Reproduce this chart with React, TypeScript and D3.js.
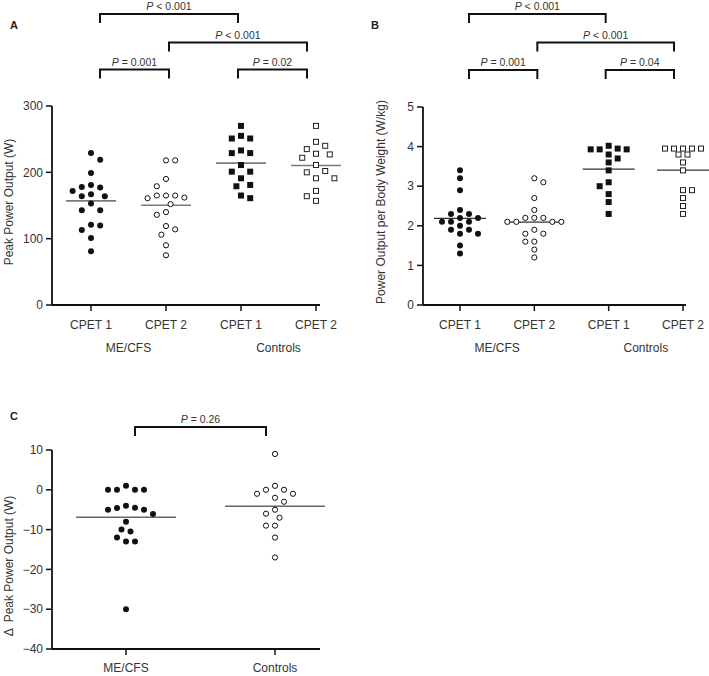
import React from 'react';
import * as d3 from 'd3';

// ---------- DATA ----------
const cpetLabels = ['CPET 1', 'CPET 2', 'CPET 1', 'CPET 2'];
const cohortLabels = ['ME/CFS', 'Controls'];

// Panel A: Peak power output (W)
const peakMecfs1 = [229, 219, 199, 181, 178, 177, 172, 167, 164, 164, 153, 143, 143, 121, 120, 113, 101, 81];
const peakMecfs2 = [218, 218, 190, 179, 165, 165, 165, 162, 161, 152, 140, 136, 119, 114, 106, 90, 75];
const peakCtrl1 = [270, 255, 251, 251, 233, 229, 229, 211, 201, 201, 191, 181, 179, 165, 161];
const peakCtrl2 = [270, 246, 240, 235, 228, 227, 222, 211, 202, 200, 191, 191, 172, 164, 157];
const peakTicks = [0, 100, 200, 300];

// Panel B: Power output per body weight (W/kg)
const wkgMecfs1 = [3.4, 3.2, 2.9, 2.4, 2.3, 2.3, 2.2, 2.2, 2.1, 2.1, 2.1, 2.0, 1.9, 1.9, 1.8, 1.8, 1.5, 1.3];
const wkgMecfs2 = [3.2, 3.1, 2.7, 2.4, 2.2, 2.2, 2.2, 2.1, 2.1, 2.1, 2.1, 1.9, 1.8, 1.8, 1.6, 1.6, 1.4, 1.2];
const wkgCtrl1 = [4.02, 3.95, 3.93, 3.93, 3.93, 3.8, 3.7, 3.6, 3.4, 3.1, 3.0, 2.8, 2.6, 2.3];
const wkgCtrl2 = [3.95, 3.95, 3.95, 3.95, 3.95, 3.8, 3.8, 3.6, 3.4, 2.9, 2.9, 2.7, 2.5, 2.3];
const wkgTicks = [0, 1, 2, 3, 4, 5];

// Panel C: change in peak power output (W)
const deltaMecfs = [1, 0, 0, 0, 0, -4, -4.5, -4.6, -5, -5, -6.1, -8, -10, -10.5, -12, -13, -13, -30];
const deltaCtrl = [9, 1, 0, 0, -1, -1, -2, -3, -5, -6, -7, -9, -9, -12, -17];
const deltaTicks = [-40, -30, -20, -10, 0, 10];

// Significance brackets: [fromGroup, toGroup, label, level]
const peakBrackets: [number, number, string, number][] = [
  [0, 2, '< 0.001', 0],
  [1, 3, '< 0.001', 1],
  [0, 1, '= 0.001', 2],
  [2, 3, '= 0.02', 2],
];
const wkgBrackets: [number, number, string, number][] = [
  [0, 2, '< 0.001', 0],
  [1, 3, '< 0.001', 1],
  [0, 1, '= 0.001', 2],
  [2, 3, '= 0.04', 2],
];
const deltaBrackets: [number, number, string, number][] = [[0, 1, '= 0.26', 0]];

// ---------- HELPERS ----------
const FONT = '"Liberation Sans", Arial, Helvetica, sans-serif';
const TEXT = '#333';

type Pt = { dx: number; y: number; v: number };

function swarm(values: number[], y: (v: number) => number, step: number, minD: number): Pt[] {
  const order = values.map((_, i) => i).sort((a, b) => values[b] - values[a]);
  const placed: { x: number; y: number }[] = [];
  const result: Pt[] = new Array(values.length);
  let balance = 0;
  for (const i of order) {
    const py = y(values[i]);
    const ok = (ox: number) => placed.every((p) => Math.hypot(p.x - ox, p.y - py) >= minD - 1e-6);
    let chosen = 0;
    for (let k = 0; k < 60; k++) {
      if (k === 0) {
        if (ok(0)) { chosen = 0; break; }
        continue;
      }
      const a = balance > 0 ? -k * step : k * step;
      if (ok(a)) { chosen = a; break; }
      if (ok(-a)) { chosen = -a; break; }
    }
    balance += Math.sign(chosen);
    placed.push({ x: chosen, y: py });
    result[i] = { dx: chosen, y: py, v: values[i] };
  }
  return result;
}

type Series = { values: number[]; shape: 'circle' | 'square'; filled: boolean; minD?: number };

type PanelProps = {
  letter: string;
  letterPos: [number, number];
  axisX: number;
  xEnd: number;
  xRange: [number, number];
  yDomain: [number, number];
  yRange: [number, number];
  ticks: number[];
  series: Series[];
  xLabels: string[];
  xLabelY: number;
  groupLabels?: string[];
  groupLabelY?: number;
  yLabel: string;
  yLabelX: number;
  yLabelY: number;
  brackets: [number, number, string, number][];
  bracketLevels: number[];
  meanHalf: number;
  meanColor: string;
  meanWidth: number;
  step: number;
  minD: number;
};

function Panel(p: PanelProps) {
  const n = p.series.length;
  const x = d3.scalePoint<number>().domain(d3.range(n)).range(p.xRange);
  const bx = d3.scalePoint<number>().domain(d3.range(n)).range([p.xRange[0] + 9, p.xRange[1] - 9]);
  const y = d3.scaleLinear().domain(p.yDomain).range(p.yRange);
  const y0 = y(p.yDomain[0]);
  const yTop = y(p.yDomain[1]);
  const r = 3;
  const side = 6;

  return (
    <g>
      <text x={p.letterPos[0]} y={p.letterPos[1]} fontFamily={FONT} fontSize={11} fontWeight="bold" fill="#222">
        {p.letter}
      </text>
      {/* brackets */}
      {p.brackets.map(([a, b, lab, lvl], i) => {
        const ly = p.bracketLevels[lvl];
        const xa = bx(a)!;
        const xb = bx(b)!;
        return (
          <g key={'br' + i}>
            <path d={`M${xa},${ly + 9}V${ly}H${xb}V${ly + 9}`} fill="none" stroke="#111" strokeWidth={2} />
            <text x={(xa + xb) / 2} y={ly - 4} textAnchor="middle" fontFamily={FONT} fontSize={10.5} fill={TEXT}>
              <tspan fontStyle="italic">P</tspan>
              {' ' + lab}
            </text>
          </g>
        );
      })}
      {/* y axis */}
      <line x1={p.axisX} x2={p.axisX} y1={yTop} y2={y0} stroke="#111" strokeWidth={1.8} />
      {p.ticks.map((t) => (
        <g key={'yt' + t}>
          <line x1={p.axisX - 6} x2={p.axisX} y1={y(t)} y2={y(t)} stroke="#111" strokeWidth={1.5} />
          <text x={p.axisX - 9} y={y(t)} dy="0.35em" textAnchor="end" fontFamily={FONT} fontSize={12} fill={TEXT}>
            {t < 0 ? '\u2212' + Math.abs(t) : t}
          </text>
        </g>
      ))}
      {/* x axis */}
      <line x1={p.axisX} x2={p.xEnd} y1={y0} y2={y0} stroke="#111" strokeWidth={1.8} />
      {d3.range(n).map((i) => (
        <g key={'xt' + i}>
          <line x1={x(i)} x2={x(i)} y1={y0} y2={y0 + 6} stroke="#111" strokeWidth={1.5} />
          <text x={x(i)} y={p.xLabelY} textAnchor="middle" fontFamily={FONT} fontSize={12} fill={TEXT}>
            {p.xLabels[i]}
          </text>
        </g>
      ))}
      {p.groupLabels &&
        p.groupLabels.map((g, gi) => (
          <text
            key={'gl' + gi}
            x={(x(gi * 2)! + x(gi * 2 + 1)!) / 2}
            y={p.groupLabelY}
            textAnchor="middle"
            fontFamily={FONT}
            fontSize={12}
            fill={TEXT}
          >
            {g}
          </text>
        ))}
      {/* y label */}
      <text
        transform={`translate(${p.yLabelX},${p.yLabelY}) rotate(-90)`}
        textAnchor="middle"
        dy="0.35em"
        fontFamily={FONT}
        fontSize={12}
        fill={TEXT}
        style={{ whiteSpace: 'pre' }}
      >
        {p.yLabel}
      </text>
      {/* means */}
      {p.series.map((s, i) => {
        const m = d3.mean(s.values)!;
        return (
          <line
            key={'m' + i}
            x1={x(i)! - p.meanHalf}
            x2={x(i)! + p.meanHalf}
            y1={y(m)}
            y2={y(m)}
            stroke={p.meanColor}
            strokeWidth={p.meanWidth}
          />
        );
      })}
      {/* points */}
      {p.series.map((s, i) => {
        const pts = swarm(s.values, (v) => y(v), p.step, s.minD ?? p.minD);
        const cx = x(i)!;
        return (
          <g key={'s' + i}>
            {pts.map((pt, j) =>
              s.shape === 'circle' ? (
                <circle
                  key={j}
                  cx={cx + pt.dx}
                  cy={pt.y}
                  r={s.filled ? r : r - 0.4}
                  fill={s.filled ? '#111' : '#fff'}
                  stroke="#111"
                  strokeWidth={s.filled ? 0 : 1}
                />
              ) : (
                <rect
                  key={j}
                  x={cx + pt.dx - side / 2 + (s.filled ? 0 : 0.5)}
                  y={pt.y - side / 2 + (s.filled ? 0 : 0.5)}
                  width={s.filled ? side : side - 1}
                  height={s.filled ? side : side - 1}
                  fill={s.filled ? '#111' : '#fff'}
                  stroke="#222"
                  strokeWidth={s.filled ? 0 : 1}
                />
              )
            )}
          </g>
        );
      })}
    </g>
  );
}

export default function App() {
  return (
    <svg width={709} height={676} style={{ position: 'absolute', left: 0, top: 0, background: '#fff' }}>
      <rect x={0} y={0} width={709} height={676} fill="#fff" />
      <Panel
        letter="A"
        letterPos={[10, 29]}
        axisX={52}
        xEnd={320}
        xRange={[91, 316]}
        yDomain={[0, 300]}
        yRange={[305, 106]}
        ticks={peakTicks}
        series={[
          { values: peakMecfs1, shape: 'circle', filled: true },
          { values: peakMecfs2, shape: 'circle', filled: false },
          { values: peakCtrl1, shape: 'square', filled: true },
          { values: peakCtrl2, shape: 'square', filled: false },
        ]}
        xLabels={cpetLabels}
        xLabelY={329}
        groupLabels={cohortLabels}
        groupLabelY={352}
        yLabel="Peak Power Output (W)"
        yLabelX={9}
        yLabelY={202}
        brackets={peakBrackets}
        bracketLevels={[14, 42.5, 69.5]}
        meanHalf={25}
        meanColor="#7a7a7a"
        meanWidth={1.6}
        step={4.6}
        minD={8.8}
      />
      <Panel
        letter="B"
        letterPos={[371, 29]}
        axisX={423}
        xEnd={686}
        xRange={[460, 683]}
        yDomain={[0, 5]}
        yRange={[305, 107]}
        ticks={wkgTicks}
        series={[
          { values: wkgMecfs1, shape: 'circle', filled: true },
          { values: wkgMecfs2, shape: 'circle', filled: false },
          { values: wkgCtrl1, shape: 'square', filled: true, minD: 7 },
          { values: wkgCtrl2, shape: 'square', filled: false, minD: 7 },
        ]}
        xLabels={cpetLabels}
        xLabelY={329}
        groupLabels={cohortLabels}
        groupLabelY={352}
        yLabel="Power Output per Body Weight (W/kg)"
        yLabelX={381}
        yLabelY={202}
        brackets={wkgBrackets}
        bracketLevels={[14, 42.5, 70]}
        meanHalf={26}
        meanColor="#333"
        meanWidth={1.2}
        step={4.5}
        minD={7.8}
      />
      <Panel
        letter="C"
        letterPos={[10, 420]}
        axisX={52}
        xEnd={320}
        xRange={[126, 275]}
        yDomain={[-40, 10]}
        yRange={[649, 450]}
        ticks={deltaTicks}
        series={[
          { values: deltaMecfs, shape: 'circle', filled: true },
          { values: deltaCtrl, shape: 'circle', filled: false },
        ]}
        xLabels={cohortLabels}
        xLabelY={672}
        yLabel={'\u0394  Peak Power Output (W)'}
        yLabelX={9}
        yLabelY={566}
        brackets={deltaBrackets}
        bracketLevels={[427]}
        meanHalf={50}
        meanColor="#666"
        meanWidth={1.5}
        step={4.5}
        minD={8.5}
      />
    </svg>
  );
}
